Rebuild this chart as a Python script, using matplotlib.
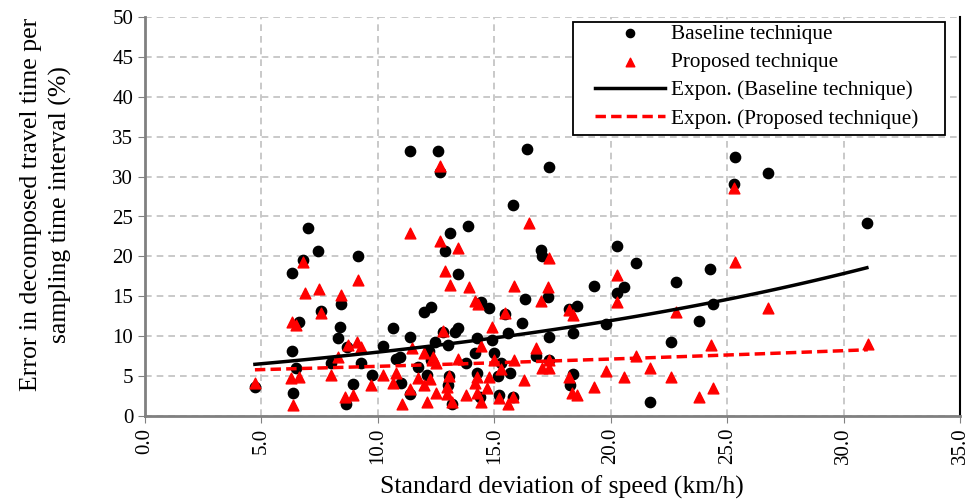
import numpy as np
import matplotlib
matplotlib.use("Agg")
import matplotlib.pyplot as plt
from matplotlib.patches import Rectangle
from matplotlib.ticker import FormatStrFormatter

plt.rcParams['font.family'] = ['Liberation Serif', 'DejaVu Serif']

# baseline technique (black circles)
base_x = [4.72, 6.35, 6.3, 6.3, 7.0, 7.43, 6.8, 7.56, 6.6, 6.5, 8.0, 8.4, 8.37, 8.3,
          11.38, 12.58, 12.67, 9.15, 13.1, 12.9, 13.87, 15.8, 16.4, 13.44, 14.43, 14.77,
          16.3, 15.46, 16.2, 11.98, 12.3, 10.65, 11.4, 15.6, 12.8, 13.3, 13.45, 14.25,
          14.9, 10.2, 8.67, 12.45, 13.0, 12.2, 10.95, 10.8, 12.3, 14.17, 15.0, 13.8,
          15.3, 9.27, 9.75, 11.72, 12.1, 11.0, 13.05, 13.0, 14.25, 15.15, 15.67, 8.93,
          8.63, 11.38, 13.2, 14.4, 15.2, 15.8,
          17.35, 17.0, 17.05, 17.3, 18.2, 18.55, 19.3, 20.27, 21.1, 20.57, 20.27, 22.8,
          24.26, 24.4, 23.8, 19.8, 17.35, 18.4, 22.6, 16.8, 17.35, 18.4, 18.25, 21.7,
          25.33, 26.75, 25.3, 31.0]
base_y = [3.6, 2.9, 8.1, 17.9, 23.6, 20.7, 19.5, 13.1, 11.8, 6.0, 6.7, 14.0, 11.2, 9.8,
          33.2, 33.2, 30.6, 20.0, 22.9, 20.7, 23.8, 26.5, 33.5, 17.8, 14.3, 13.5,
          14.7, 12.8, 11.7, 13.0, 13.7, 11.0, 9.9, 10.4, 10.5, 10.5, 11.0, 9.8,
          9.5, 8.8, 8.7, 9.3, 8.9, 8.1, 7.4, 7.1, 7.0, 7.9, 7.9, 6.7,
          6.6, 6.6, 5.1, 6.1, 5.1, 4.1, 5.0, 3.9, 5.4, 5.0, 5.4, 4.0,
          1.5, 2.7, 1.5, 2.4, 2.6, 2.4,
          31.2, 20.8, 20.0, 14.9, 13.4, 13.8, 16.3, 21.3, 19.2, 16.2, 15.4, 16.8,
          18.4, 14.0, 11.9, 11.5, 9.9, 10.4, 9.3, 7.5, 7.0, 5.3, 3.9, 1.8,
          32.5, 30.4, 29.1, 24.2]

# proposed technique (red triangles)
prop_x = [4.72, 6.35, 6.8, 6.87, 7.47, 7.56, 6.3, 6.5, 6.27, 6.6, 8.0, 8.4,
          12.67, 9.15, 11.38, 12.67, 13.44, 16.5, 12.88, 13.1, 13.9, 14.17, 14.3,
          15.84, 15.46, 14.9, 12.8, 8.7, 9.1, 9.27, 11.46, 14.43, 11.98, 12.37, 12.5,
          13.44, 15.0, 15.84, 15.3, 8.3, 10.2, 10.8, 10.65, 11.72, 12.0, 12.24, 13.05,
          12.97, 14.25, 14.17, 14.77, 16.27, 9.7, 8.93, 8.6, 11.38, 11.03, 12.1, 12.5,
          12.97, 13.2, 13.8, 14.25, 14.45, 14.7, 15.2, 15.6, 15.8,
          17.35, 17.3, 17.0, 18.2, 18.4, 20.27, 20.27, 22.8, 24.3, 16.8, 17.35, 17.05,
          17.35, 21.1, 18.2, 18.33, 18.55, 19.3, 19.8, 20.57, 21.7, 22.6, 23.8, 24.4,
          25.3, 25.33, 26.75, 31.04]
prop_y = [4.1, 1.4, 19.3, 15.4, 15.9, 12.9, 11.8, 11.4, 4.8, 4.9, 5.1, 15.2,
          31.3, 17.0, 22.9, 21.9, 21.0, 24.2, 18.2, 16.4, 16.2, 14.4, 14.0,
          16.3, 12.9, 11.2, 10.7, 8.9, 9.3, 8.6, 8.5, 8.8, 7.9, 7.4, 6.7,
          7.1, 7.0, 7.0, 5.9, 7.4, 5.1, 5.4, 4.1, 4.7, 3.9, 4.6, 5.0,
          3.6, 4.9, 4.1, 4.9, 4.5, 3.9, 2.6, 2.4, 3.4, 1.5, 1.8, 2.9,
          2.8, 1.8, 2.6, 2.9, 1.8, 3.5, 2.3, 1.5, 2.4,
          19.8, 16.2, 14.4, 13.3, 12.7, 17.7, 14.3, 13.0, 8.9, 8.5, 7.0, 6.0,
          6.0, 7.5, 4.9, 2.9, 2.6, 3.6, 5.6, 4.9, 6.0, 4.9, 2.4, 3.5,
          28.6, 19.3, 13.5, 9.0]

# exponential trend lines y = a*exp(b*x)
base_trend = (5.36, 0.0401)
prop_trend = (5.43, 0.01368)

fig = plt.figure(figsize=(9.7, 5.0), dpi=100)
ax = fig.add_axes([0.1495, 0.168, 0.8402, 0.798])

ax.scatter(base_x, base_y, s=55, c='black', marker='o', zorder=3, label='Baseline technique')
ax.scatter(prop_x, prop_y, s=60, c='red', marker='^', zorder=3, label='Proposed technique')

xs = np.linspace(min(base_x), max(base_x), 100)
ax.plot(xs, base_trend[0] * np.exp(base_trend[1] * xs), color='black', lw=2.5, zorder=4,
        label='Expon. (Baseline technique)')
xs = np.linspace(min(prop_x), max(prop_x), 100)
ax.plot(xs, prop_trend[0] * np.exp(prop_trend[1] * xs), color='red', lw=2.5, ls=(0, (3, 1.5)),
        zorder=4, label='Expon. (Proposed technique)')

ax.set_xlim(0, 35)
ax.set_ylim(0, 50)
ax.set_xticks(np.arange(0, 35.1, 5))
ax.set_yticks(np.arange(0, 51, 5))
ax.xaxis.set_major_formatter(FormatStrFormatter('%.1f'))
ax.tick_params(axis='x', labelrotation=90, labelsize=15, length=5, color='#808080')
ax.tick_params(axis='y', labelsize=15, length=5, color='#808080')
ax.grid(True, color='#c0c0c0', ls=(0, (4, 3)), lw=1.2)
ax.set_axisbelow(True)

for side in ['left', 'bottom']:
    ax.spines[side].set_color('#808080')
    ax.spines[side].set_linewidth(2)
ax.spines['top'].set_visible(False)
ax.spines['right'].set_color('black')
ax.spines['right'].set_linewidth(1.5)

ax.set_xlabel('Standard deviation of speed (km/h)', fontsize=18.5)
ax.xaxis.set_label_coords(0.511, -0.178)
ax.xaxis.label.set_verticalalignment('center')
ax.set_ylabel('Error in decomposed travel time per\nsampling time interval (%)', fontsize=18.5,
              linespacing=1.35)
ax.yaxis.set_label_coords(-0.09, 0.53)

# legend box drawn by hand so it can have wide side padding
ax.add_patch(Rectangle((0.525, 0.704), 0.4566, 0.283, transform=ax.transAxes,
                       facecolor='white', edgecolor='black', lw=1.3, zorder=5))
leg = ax.legend(loc='upper left', bbox_to_anchor=(0.552, 0.982), fontsize=15.3, frameon=False,
                handlelength=3.3, handletextpad=0.3, borderpad=0, labelspacing=0.39,
                markerscale=0.8, borderaxespad=0)
leg.set_zorder(6)

fig.savefig('out.png', dpi=100)
